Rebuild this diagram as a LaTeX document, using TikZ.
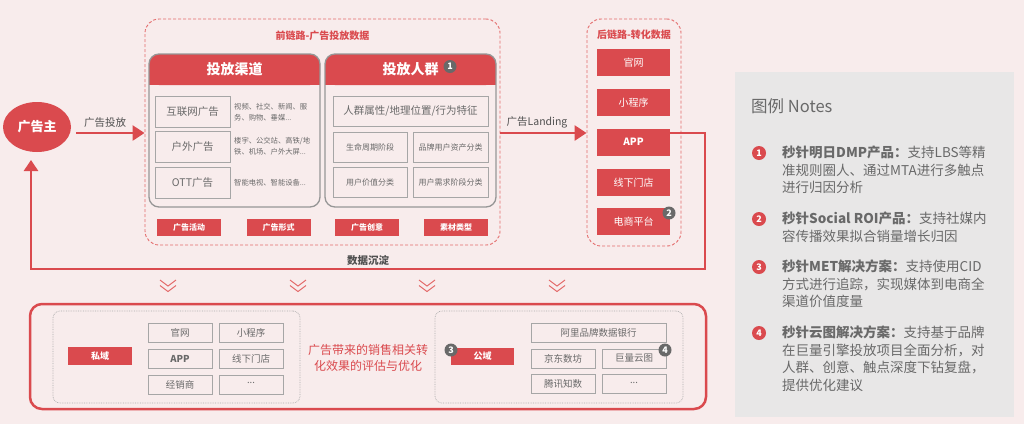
\documentclass[tikz,border=0pt]{standalone}
\usepackage{fontspec}
\setmainfont{Noto Sans CJK SC}
\usetikzlibrary{arrows.meta,shapes.geometric}
\definecolor{bg}{RGB}{248,236,236}
\definecolor{rd}{RGB}{218,74,78}
\definecolor{lrd}{RGB}{228,108,108}
\definecolor{gr}{RGB}{105,105,105}
\definecolor{lgr}{RGB}{150,150,150}
\definecolor{dgr}{RGB}{80,80,80}
\definecolor{panelc}{RGB}{232,231,231}
\newcommand\myfs[1]{\fontsize{#1}{#1}\selectfont}
\newcommand\mydots{\raisebox{2.5pt}{...}}
\tikzset{
 dashbox/.style={draw=lrd, dash pattern=on 3pt off 2pt, line width=0.9pt, rounded corners=14pt},
 panelbox/.style={draw=lgr, line width=1.3pt, rounded corners=10pt},
 itembox/.style={draw=lgr!85, line width=0.9pt, text=gr, inner sep=0pt},
 redbox/.style={fill=rd, text=white, inner sep=0pt},
 dotbox/.style={draw=lgr!80, densely dotted, line width=0.7pt, rounded corners=7pt},
 badge/.style={circle, fill=gr, text=white, inner sep=0pt, minimum size=13pt, font=\myfs{9}\bfseries},
 rbadge/.style={badge, fill=rd, minimum size=14pt},
 chev/.style={draw=lrd, line width=1pt},
 bigarrow/.style={draw=rd, line width=2.6pt, -{Triangle[length=12pt,width=15pt]}},
 fbline/.style={draw=rd, line width=2.6pt, -{Triangle[length=11pt,width=14pt]}},
 note/.style={anchor=north west, align=left, text=gr, inner sep=0pt, font=\myfs{13.5}, execute at begin node={\setlength{\baselineskip}{17.5pt}}},
}
\begin{document}
\begin{tikzpicture}[x=1pt,y=-1pt]
\fill[bg] (0,0) rectangle (1024,424);
\useasboundingbox (0,0) rectangle (1024,424);

% advertiser
\node[ellipse, fill=rd, text=white, minimum width=68pt, minimum height=50pt, inner sep=0pt, font=\myfs{13}\bfseries] (adv) at (37,127) {广告主};

% front chain
\node[dashbox, minimum width=355pt, minimum height=226pt] (front) at (322.5,132) {};
\node[text=rd, font=\myfs{10}\bfseries] (fronttitle) at (322.5,36) {前链路-广告投放数据};

% panel 1
\fill[rd, rounded corners=10pt] (149,54) rectangle (320,85);
\fill[rd] (149,72) rectangle (320,85);
\node[panelbox, minimum width=171pt, minimum height=153pt] (p1) at (234.5,130.5) {};
\node[text=white, font=\myfs{14}\bfseries] (p1h) at (234.5,69.5) {投放渠道};
\node[itembox, minimum width=75pt, minimum height=31pt, font=\myfs{10.5}] (c1) at (192.5,111.5) {互联网广告};
\node[itembox, minimum width=75pt, minimum height=31pt, font=\myfs{10.5}] (c2) at (192.5,147) {户外广告};
\node[itembox, minimum width=75pt, minimum height=31pt, font=\myfs{10.5}] (c3) at (192.5,182.5) {OTT广告};
\node[anchor=west, align=left, text=gr, inner sep=0pt, font=\myfs{7.3}, execute at begin node={\setlength{\baselineskip}{11pt}}] (d1) at (234,112) {视频、社交、新闻、服\\务、购物、垂媒...};
\node[anchor=west, align=left, text=gr, inner sep=0pt, font=\myfs{7.3}, execute at begin node={\setlength{\baselineskip}{11pt}}] (d2) at (234,146) {楼宇、公交站、高铁/地\\铁、机场、户外大屏...};
\node[anchor=west, align=left, text=gr, inner sep=0pt, font=\myfs{7.3}] (d3) at (234,182.5) {智能电视、智能设备...};

% panel 2
\fill[rd, rounded corners=10pt] (325,54) rectangle (496,85);
\fill[rd] (325,72) rectangle (496,85);
\node[panelbox, minimum width=171pt, minimum height=153pt] (p2) at (410.5,130.5) {};
\node[text=white, font=\myfs{14}\bfseries] (p2h) at (410.5,69.5) {投放人群};
\node[badge] (b1) at (450,66.5) {1};
\node[itembox, minimum width=155pt, minimum height=30pt, font=\myfs{10.5}] (a1) at (410.5,111) {人群属性/地理位置/行为特征};
\node[itembox, minimum width=74pt, minimum height=30pt, font=\myfs{8}] (a2) at (370,147) {生命周期阶段};
\node[itembox, minimum width=75pt, minimum height=30pt, font=\myfs{8}] (a3) at (450.5,147) {品牌用户资产分类};
\node[itembox, minimum width=74pt, minimum height=30pt, font=\myfs{8}] (a4) at (370,182) {用户价值分类};
\node[itembox, minimum width=75pt, minimum height=30pt, font=\myfs{8}] (a5) at (450.5,182) {用户需求阶段分类};

% bottom tags
\node[redbox, minimum width=64pt, minimum height=17pt, font=\myfs{8}\bfseries] (t1) at (189,227.5) {广告活动};
\node[redbox, minimum width=64pt, minimum height=17pt, font=\myfs{8}\bfseries] (t2) at (278.5,227.5) {广告形式};
\node[redbox, minimum width=64pt, minimum height=17pt, font=\myfs{8}\bfseries] (t3) at (367,227.5) {广告创意};
\node[redbox, minimum width=64pt, minimum height=17pt, font=\myfs{8}\bfseries] (t4) at (456,227.5) {素材类型};

% back chain
\node[dashbox, minimum width=94pt, minimum height=227pt] (back) at (634,132.5) {};
\node[text=rd, font=\myfs{10}\bfseries] (backtitle) at (634,35) {后链路-转化数据};
\node[redbox, minimum width=73pt, minimum height=27pt, font=\myfs{10}] (r1) at (633.5,62.5) {官网};
\node[redbox, minimum width=73pt, minimum height=27pt, font=\myfs{10}] (r2) at (633.5,102.5) {小程序};
\node[redbox, minimum width=73pt, minimum height=27pt, font=\myfs{10}\bfseries] (app) at (633.5,142) {APP};
\node[redbox, minimum width=73pt, minimum height=27pt, font=\myfs{10}] (r4) at (633.5,182.5) {线下门店};
\node[redbox, minimum width=73pt, minimum height=27pt, font=\myfs{10}] (r5) at (633.5,221.5) {电商平台};
\node[badge] (b2) at (669,213) {2};

% arrows
\coordinate (s1) at (76,133);
\draw[bigarrow] (s1) -- (front.west |- s1);
\node[text=dgr, font=\myfs{10.5}] (lab1) at (105,123) {广告投放};
\coordinate (s2) at (500,133);
\draw[bigarrow] (s2) -- (back.west |- s2);
\node[text=dgr, font=\myfs{10.5}] (lab2) at (537,122) {广告Landing};

\coordinate (f1) at (705,269);
\coordinate (f2) at (31,269);
\coordinate (f3) at (31,160);
\draw[fbline, line join=miter] ([yshift=9pt]app.east) -| (f1) -- (f2) -- (f3);
\node[text=dgr, font=\myfs{10.5}\bfseries] (lab3) at (368,260) {数据沉淀};

% chevrons
\foreach \cx in {168,298,427,557}{
  \draw[chev] (\cx-8,280) -- (\cx,286) -- (\cx+8,280);
  \draw[chev] (\cx-8,285.5) -- (\cx,291.5) -- (\cx+8,285.5);
}

% bottom block
\node[draw=rd, line width=2.5pt, rounded corners=12pt, minimum width=676pt, minimum height=105pt] (bottom) at (368,356.5) {};

% private
\node[dotbox, minimum width=247pt, minimum height=92pt] (priv) at (176.5,357) {};
\node[redbox, minimum width=64pt, minimum height=18pt, font=\myfs{9}\bfseries] (privtag) at (100,356) {私域};
\node[itembox, minimum width=64pt, minimum height=19pt, font=\myfs{9.5}] (g1) at (180,332.5) {官网};
\node[itembox, minimum width=64pt, minimum height=19pt, font=\myfs{9.5}] (g2) at (251,332.5) {小程序};
\node[itembox, minimum width=64pt, minimum height=19pt, font=\myfs{9.5}\bfseries] (g3) at (180,358.5) {APP};
\node[itembox, minimum width=64pt, minimum height=19pt, font=\myfs{9.5}] (g4) at (251,358.5) {线下门店};
\node[itembox, minimum width=64pt, minimum height=19pt, font=\myfs{9.5}] (g5) at (180,384.5) {经销商};
\node[itembox, minimum width=64pt, minimum height=19pt, font=\myfs{9.5}] (g6) at (251,384.5) {\mydots};

\node[text=rd, align=center, font=\myfs{12}, execute at begin node={\setlength{\baselineskip}{16.5pt}}] (eval) at (368,358) {广告带来的销售相关转\\化效果的评估与优化};

% public
\node[dotbox, minimum width=248pt, minimum height=92pt] (pub) at (559,357) {};
\node[redbox, minimum width=63pt, minimum height=17pt, font=\myfs{9}\bfseries] (pubtag) at (482.5,356.5) {公域};
\node[badge] (b3) at (451,350) {3};
\node[itembox, minimum width=135pt, minimum height=19pt, font=\myfs{9.5}] (h1) at (598.5,332.5) {阿里品牌数据银行};
\node[itembox, minimum width=64pt, minimum height=19pt, font=\myfs{9.5}] (h2) at (563,358.5) {京东数坊};
\node[itembox, minimum width=64pt, minimum height=19pt, font=\myfs{9.5}] (h3) at (634,358.5) {巨量云图};
\node[itembox, minimum width=64pt, minimum height=19pt, font=\myfs{9.5}] (h4) at (563,384) {腾讯知数};
\node[itembox, minimum width=64pt, minimum height=19pt, font=\myfs{9.5}] (h5) at (634,384) {\mydots};
\node[badge] (b4) at (665,350) {4};

% legend
\node[fill=panelc, minimum width=279pt, minimum height=345pt] (legend) at (874.5,244.5) {};
\node[anchor=base west, text=gr, font=\myfs{16.5}, inner sep=0pt] (ltitle) at (751,112) {图例 Notes};
\node[rbadge] (n1) at (759,153) {1};
\node[note] (t1n) at (782,146) {\textbf{秒针明日DMP产品：}支持LBS等精\\准规则圈人、通过MTA进行多触点\\进行归因分析};
\node[rbadge] (n2) at (759,219) {2};
\node[note] (t2n) at (782,212) {\textbf{秒针Social ROI产品：}支持社媒内\\容传播效果拟合销量增长归因};
\node[rbadge] (n3) at (759,267) {3};
\node[note] (t3n) at (782,260) {\textbf{秒针MET解决方案：}支持使用CID\\方式进行追踪，实现媒体到电商全\\渠道价值度量};
\node[rbadge] (n4) at (759,333) {4};
\node[note] (t4n) at (782,326) {\textbf{秒针云图解决方案：}支持基于品牌\\在巨量引擎投放项目全面分析，对\\人群、创意、触点深度下钻复盘，\\提供优化建议};
\end{tikzpicture}
\end{document}
